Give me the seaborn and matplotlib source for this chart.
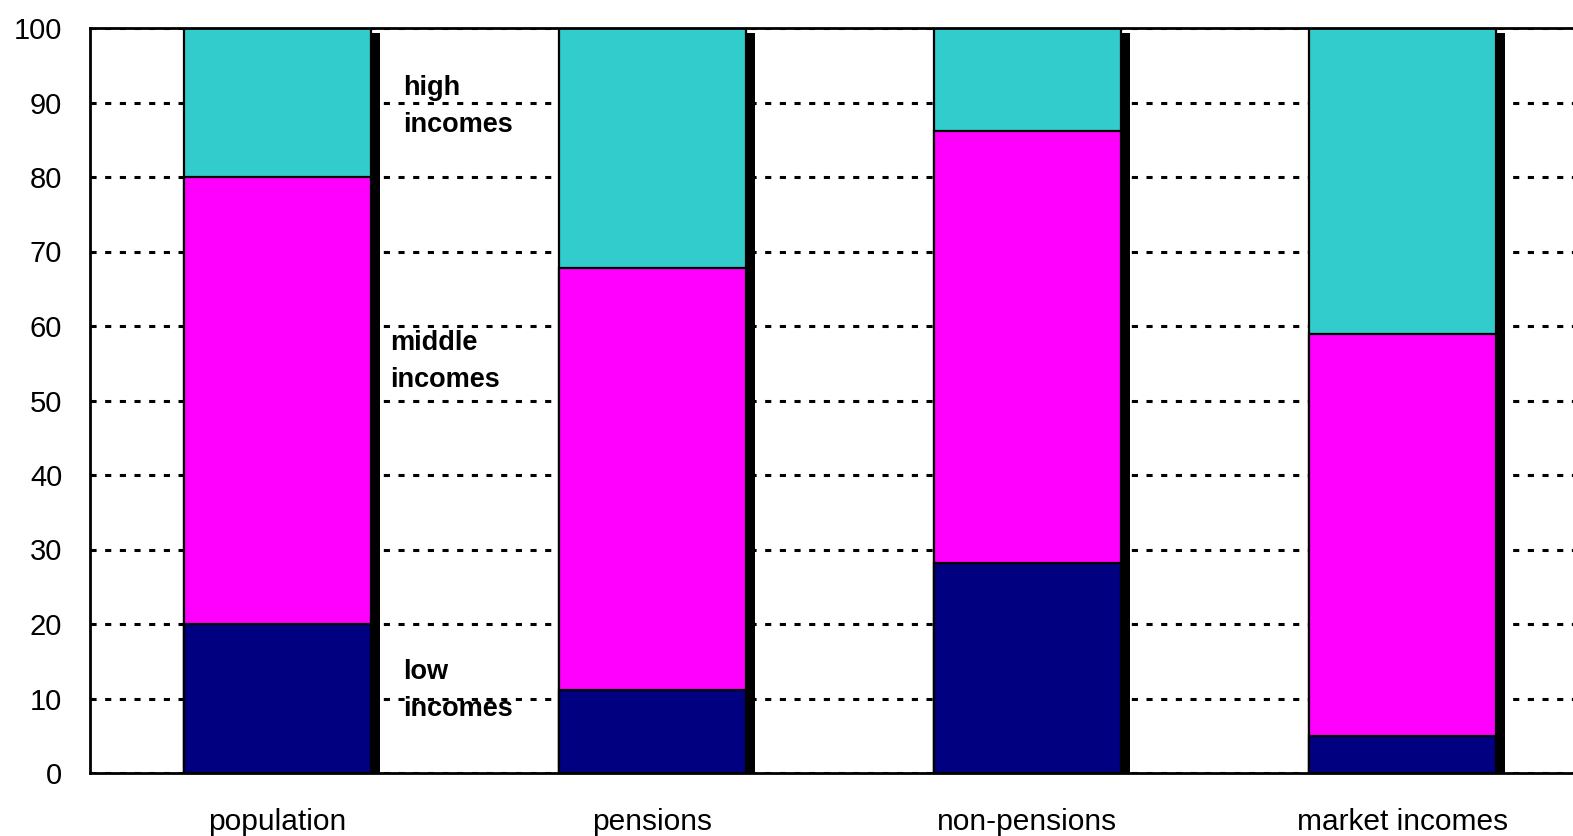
import numpy as np
import pandas as pd
import matplotlib
matplotlib.use("Agg")
import matplotlib.pyplot as plt
import matplotlib.patheffects as pe
import seaborn as sns

# Income-group shares (%) for each distribution
categories = ["population", "pensions", "non-pensions", "market incomes"]
low_incomes = [20.0, 11.1, 28.2, 5.0]
middle_incomes = [60.0, 56.7, 58.0, 53.9]
high_incomes = [20.0, 32.2, 13.8, 41.1]
y_ticks = [0, 10, 20, 30, 40, 50, 60, 70, 80, 90, 100]

sns.set_theme(style="white")
plt.rcParams["font.family"] = ["Liberation Sans", "DejaVu Sans"]

low = np.array(low_incomes)
mid_top = low + np.array(middle_incomes)
total = mid_top + np.array(high_incomes)

df = pd.DataFrame({
    "category": categories,
    "total": total,
    "mid_top": mid_top,
    "low": low,
})

fig = plt.figure(figsize=(15.73, 8.36), dpi=100)
ax = fig.add_axes([90 / 1573, 63 / 836, 1500 / 1573, 745 / 836])

bar_kw = dict(width=0.5, edgecolor="black", linewidth=1.6, saturation=1)

# Stacked bars drawn as overlapping cumulative totals
sns.barplot(data=df, x="category", y="total", color="#33CCCC", ax=ax, **bar_kw)
n_total = len(ax.patches)
for p in ax.patches[:n_total]:
    p.set_path_effects([
        pe.SimplePatchShadow(offset=(6.5, -3.6), shadow_rgbFace="black", alpha=1.0),
        pe.Normal(),
    ])
sns.barplot(data=df, x="category", y="mid_top", color="#FF00FF", ax=ax, **bar_kw)
sns.barplot(data=df, x="category", y="low", color="#000080", ax=ax, **bar_kw)

ax.set_xlim(-0.5, 3.5)
ax.set_ylim(0, 100)
ax.set_yticks(y_ticks)
ax.set_xlabel("")
ax.set_ylabel("")

ax.set_axisbelow(True)
ax.yaxis.grid(True, color="black", linestyle=(0, (2.0, 2.8)), linewidth=2.2)
ax.xaxis.grid(False)

for side in ["left", "bottom", "top"]:
    ax.spines[side].set_visible(True)
    ax.spines[side].set_color("black")
    ax.spines[side].set_linewidth(2)
ax.spines["right"].set_visible(False)

ax.tick_params(axis="y", length=0, pad=20, labelsize=21, colors="black")
ax.tick_params(axis="x", length=0, pad=25, labelsize=21.5, colors="black")

label_kw = dict(ha="left", va="center", fontsize=19.5, fontweight="bold",
                color="black", linespacing=1.55)
ax.text(0.335, 89.5, "high\nincomes", **label_kw)
ax.text(0.30, 55.2, "middle\nincomes", **label_kw)
ax.text(0.335, 11.1, "low\nincomes", **label_kw)

fig.savefig("out.png", dpi=100)
